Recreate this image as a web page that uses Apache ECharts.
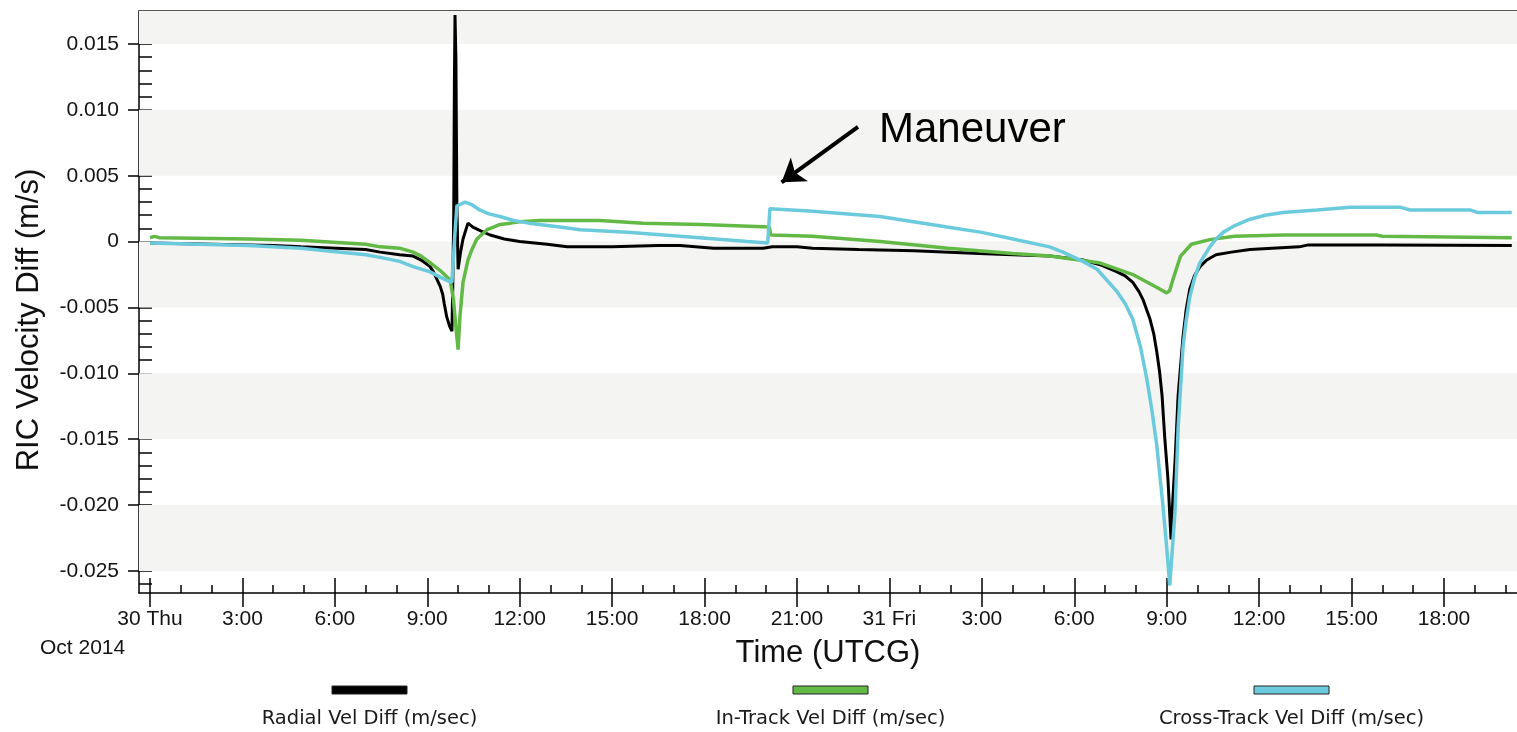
<!DOCTYPE html>
<html><head><meta charset="utf-8">
<script src="https://cdn.jsdelivr.net/npm/echarts@6/dist/echarts.min.js"></script>
<style>html,body{margin:0;padding:0;background:#fff}#c{width:1517px;height:732px}</style>
</head><body><div id="c"></div>
<script>
// Hours since 30 Oct 2014 00:00 UTCG, values in m/s
const seriesNames = ['Radial Vel Diff (m/sec)', 'In-Track Vel Diff (m/sec)', 'Cross-Track Vel Diff (m/sec)'];
const seriesColors = ['#000000', '#62b946', '#6ccadd'];

const radial = [[0,-0.0001],[2,-0.0002],[4,-0.0003],[4.9,-0.0004],[7.0,-0.0006],[7.47,-0.0008],[8.1,-0.001],[8.54,-0.0011],[8.8,-0.0014],[9.09,-0.0019],[9.2,-0.0023],[9.42,-0.0034],[9.5,-0.004],[9.55,-0.0047],[9.63,-0.0057],[9.72,-0.0064],[9.8,-0.0068],[9.83,-0.003],[9.86,0.0025],[9.88,0.0120],[9.9,0.0172],[9.93,0.0138],[9.96,0.003],[10.0,-0.0021],[10.08,-0.0008],[10.16,0.0002],[10.32,0.0014],[10.48,0.0011],[10.75,0.0008],[11.04,0.0005],[11.5,0.0002],[12.0,0.0],[12.89,-0.0002],[13.54,-0.0004],[15,-0.0004],[16.5,-0.0003],[17.2,-0.0003],[18.3,-0.0005],[19.9,-0.0005],[20.2,-0.0004],[21.0,-0.0004],[21.5,-0.0005],[23,-0.0006],[24.8,-0.0007],[26.9,-0.0009],[28.0,-0.0010],[29.21,-0.0011],[30.28,-0.0014],[30.9,-0.0018],[31.39,-0.0023],[31.65,-0.0026],[31.9,-0.0031],[32.1,-0.0038],[32.23,-0.0044],[32.46,-0.0059],[32.58,-0.007],[32.68,-0.0084],[32.77,-0.0099],[32.85,-0.0117],[32.94,-0.015],[33.04,-0.018],[33.14,-0.0226],[33.2,-0.0195],[33.27,-0.0167],[33.37,-0.0117],[33.53,-0.0072],[33.63,-0.0052],[33.75,-0.0036],[33.9,-0.0026],[34.08,-0.0019],[34.3,-0.0014],[34.6,-0.001],[35.1,-0.0008],[35.7,-0.0006],[37.3,-0.0004],[37.6,-0.00025],[40,-0.00025],[44.2,-0.0003]];

const inTrack = [[0,0.0003],[0.15,0.0004],[0.3,0.0003],[3.2,0.0002],[4.9,0.0001],[7.0,-0.0002],[7.47,-0.0004],[8.1,-0.0005],[8.54,-0.0008],[8.8,-0.0011],[9.09,-0.0016],[9.42,-0.0022],[9.6,-0.0026],[9.74,-0.0029],[9.85,-0.0044],[9.93,-0.0065],[10.0,-0.0082],[10.06,-0.0057],[10.16,-0.0031],[10.32,-0.0014],[10.45,-0.0006],[10.61,0.0002],[10.94,0.0009],[11.15,0.0011],[11.36,0.0013],[11.7,0.0014],[12.0,0.0015],[12.66,0.0016],[14.6,0.0016],[16,0.0014],[17.9,0.0013],[20.1,0.0011],[20.15,0.0005],[21.5,0.0004],[23.7,0.0],[25.9,-0.0005],[28.0,-0.0009],[29.21,-0.0011],[30.8,-0.0016],[31.9,-0.0025],[32.7,-0.0035],[33.0,-0.0039],[33.1,-0.0037],[33.2,-0.0029],[33.45,-0.0011],[33.8,-0.0002],[34.4,0.00015],[35.2,0.0004],[36.8,0.0005],[39.8,0.0005],[40.0,0.0004],[44.2,0.0003]];

const crossTrack = [[0,-0.0001],[3.2,-0.0003],[4.9,-0.0005],[7.0,-0.001],[7.47,-0.0012],[8.1,-0.0015],[8.54,-0.0019],[9.09,-0.0023],[9.42,-0.0027],[9.6,-0.0029],[9.8,-0.0031],[9.9,0.0007],[9.96,0.0027],[10.22,0.0030],[10.45,0.0028],[10.7,0.0024],[11.0,0.0021],[11.36,0.0019],[11.8,0.0016],[12.3,0.0014],[13.3,0.0011],[13.96,0.0009],[15.5,0.0007],[17.2,0.0004],[19.4,0.0],[20.05,-0.0001],[20.12,0.0025],[21.52,0.0023],[23.69,0.0019],[25.87,0.0011],[27.0,0.0007],[28.01,0.0002],[29.2,-0.0004],[29.63,-0.0008],[30.28,-0.0015],[30.74,-0.0021],[31.39,-0.0038],[31.65,-0.0047],[31.9,-0.0059],[32.15,-0.008],[32.36,-0.0105],[32.52,-0.0128],[32.68,-0.0155],[32.78,-0.0178],[32.88,-0.0201],[33.0,-0.0232],[33.1,-0.0261],[33.27,-0.0205],[33.37,-0.0142],[33.53,-0.008],[33.63,-0.006],[33.75,-0.0042],[33.9,-0.0028],[34.08,-0.0016],[34.4,-0.0004],[34.6,0.0002],[34.83,0.0007],[35.2,0.0012],[35.7,0.0017],[36.2,0.002],[36.77,0.0022],[37.88,0.0024],[38.95,0.0026],[40.6,0.0026],[40.9,0.0024],[42.85,0.0024],[43.1,0.0022],[44.2,0.0022]];

const xTickHours = [0,3,6,9,12,15,18,21,24,27,30,33,36,39,42];
const dayLabels = {0: '30 Thu', 24: '31 Fri'};
const monthLabel = 'Oct 2014';
const yTickValues = [-0.025,-0.020,-0.015,-0.010,-0.005,0,0.005,0.010,0.015];
const xMinorHours = Array.from({length: 45}, (_, i) => i);
const yMinorValues = Array.from({length: 44}, (_, i) => (i - 26) / 1000);
const maneuverFrom = [22.98, 0.0087];
const maneuverTo = [20.5, 0.0045];
const maneuverText = 'Maneuver';

const X_MIN = -0.357, X_MAX = 44.37;
const Y_MIN = -0.02667, Y_MAX = 0.0175;

const chart = echarts.init(document.getElementById('c'), null, {renderer: 'canvas'});
const FONT = '"Liberation Sans", Arial, sans-serif';
const black = '#000';

const xBase = {type: 'value', min: X_MIN, max: X_MAX, gridIndex: 0, splitLine: {show: false}, splitArea: {show: false}};
const yBase = {type: 'value', min: Y_MIN, max: Y_MAX, gridIndex: 0, splitLine: {show: false}, splitArea: {show: false}};

// grey bands between alternate major ticks
const bands = [];
for (let i = 0; i < yTickValues.length; i += 2) {
  const a = yTickValues[i];
  const b = (i + 1 < yTickValues.length) ? yTickValues[i + 1] : Y_MAX;
  bands.push([{yAxis: a}, {yAxis: b}]);
}

const legendGraphics = [];
seriesNames.forEach((n, i) => {
  const cx = 369.5 + 461 * i;
  legendGraphics.push({type: 'rect', id: 'lr' + i, z: 100, shape: {x: cx - 37.5, y: 686, width: 75, height: 8}, style: {fill: seriesColors[i], stroke: '#222', lineWidth: 1}, silent: true});
  legendGraphics.push({type: 'text', id: 'lt' + i, z: 100, x: cx, y: 719, style: {text: n, fill: '#1a1a1a', font: '19.5px "DejaVu Sans", sans-serif', textAlign: 'center', textVerticalAlign: 'middle'}, silent: true});
});

chart.setOption({
  animation: false,
  backgroundColor: '#fff',
  grid: {left: 139, right: 0, top: 11, bottom: 139, containLabel: false},
  xAxis: [
    Object.assign({}, xBase, {
      position: 'bottom',
      name: 'Time (UTCG)', nameLocation: 'middle', nameGap: 45,
      nameTextStyle: {fontSize: 31, fontFamily: FONT, color: '#111'},
      axisLine: {show: true, onZero: false, lineStyle: {color: black, width: 1.5}},
      axisTick: {show: true, inside: false, length: 14, customValues: xTickHours, lineStyle: {color: black, width: 1.5}},
      axisLabel: {show: true, customValues: xTickHours, margin: 16, color: '#141414', fontSize: 21, fontFamily: FONT,
        formatter: v => (dayLabels[v] !== undefined ? dayLabels[v] : (v % 24) + ':00')}
    }),
    Object.assign({}, xBase, {
      position: 'bottom',
      axisLine: {show: false, onZero: false},
      axisTick: {show: true, inside: true, length: 15, customValues: xTickHours, lineStyle: {color: black, width: 1.5}},
      axisLabel: {show: false}
    }),
    Object.assign({}, xBase, {
      position: 'bottom',
      axisLine: {show: false, onZero: false},
      axisTick: {show: true, inside: true, length: 8, customValues: xMinorHours, lineStyle: {color: black, width: 1.5}},
      axisLabel: {show: false}
    }),
    Object.assign({}, xBase, {
      position: 'top',
      axisLine: {show: true, onZero: false, lineStyle: {color: '#555', width: 2}},
      axisTick: {show: false},
      axisLabel: {show: false}
    })
  ],
  yAxis: [
    Object.assign({}, yBase, {
      position: 'left',
      axisLine: {show: true, onZero: false, lineStyle: {color: black, width: 1.5}},
      axisTick: {show: true, inside: false, length: 11, customValues: yTickValues, lineStyle: {color: black, width: 1.5}},
      axisLabel: {show: true, customValues: yTickValues, margin: 20, color: '#141414', fontSize: 21, fontFamily: FONT,
        formatter: v => (Math.abs(v) < 1e-9 ? '0' : v.toFixed(3))}
    }),
    Object.assign({}, yBase, {
      position: 'left',
      axisLine: {show: false, onZero: false},
      axisTick: {show: true, inside: true, length: 13, customValues: yMinorValues, lineStyle: {color: black, width: 1.5}},
      axisLabel: {show: false}
    })
  ],
  series: [
    {
      name: 'bands', type: 'line', data: [], xAxisIndex: 0, yAxisIndex: 0, z: 0, silent: true,
      markArea: {silent: true, itemStyle: {color: '#f4f4f2'}, data: bands},
      markLine: {
        silent: true, symbol: ['none', 'arrow'], symbolSize: 22, z: 50,
        lineStyle: {color: '#000', width: 4, type: 'solid'}, label: {show: false},
        data: [[{coord: maneuverFrom}, {coord: maneuverTo}]]
      }
    },
    {name: seriesNames[0], type: 'line', data: radial, showSymbol: false, symbol: 'none', z: 3,
      lineStyle: {color: seriesColors[0], width: 3}, itemStyle: {color: seriesColors[0]}},
    {name: seriesNames[1], type: 'line', data: inTrack, showSymbol: false, symbol: 'none', z: 3,
      lineStyle: {color: seriesColors[1], width: 3.5}, itemStyle: {color: seriesColors[1]}},
    {name: seriesNames[2], type: 'line', data: crossTrack, showSymbol: false, symbol: 'none', z: 3,
      lineStyle: {color: seriesColors[2], width: 3.5}, itemStyle: {color: seriesColors[2]}}
  ],
  graphic: [
    {type: 'text', id: 'ytitle', z: 100, x: 29, y: 320, rotation: Math.PI / 2, style: {text: 'RIC Velocity Diff (m/s)', fill: '#111', font: '31px "Liberation Sans", Arial, sans-serif', textAlign: 'center', textVerticalAlign: 'middle'}, silent: true},
    {type: 'text', id: 'month', z: 100, x: 40, y: 648, style: {text: monthLabel, fill: '#141414', font: '21px "Liberation Sans", Arial, sans-serif', textAlign: 'left', textVerticalAlign: 'middle'}, silent: true},
    {type: 'text', id: 'maneuver', z: 100, x: 879, y: 130, style: {text: maneuverText, fill: '#000', font: '42px "Liberation Sans", Arial, sans-serif', textAlign: 'left', textVerticalAlign: 'middle'}, silent: true}
  ].concat(legendGraphics)
});
</script></body></html>
